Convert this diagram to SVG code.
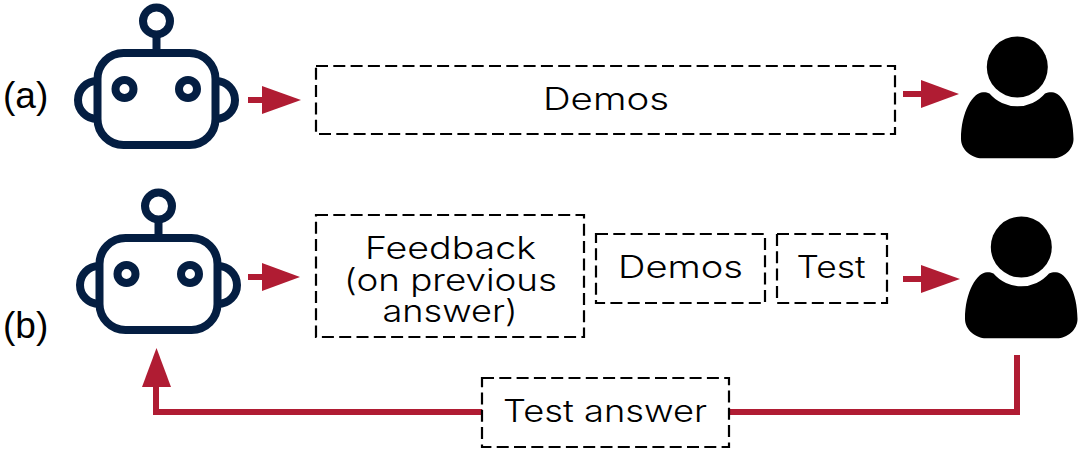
<svg xmlns="http://www.w3.org/2000/svg" xmlns:xlink="http://www.w3.org/1999/xlink" width="1079" height="452" viewBox="0 0 1079 452">
  <style>
    .ink { fill: none; stroke: #041e42; stroke-width: 8; }
    .box { fill: #fff; stroke: #000; stroke-width: 2.2; stroke-dasharray: 12 5.3; }
    .label { font-family: "Inter", "Noto Sans", sans-serif; font-weight: 300; font-size: 31px; fill: #000; text-anchor: middle; }
    .tag { font-family: "Liberation Sans", Arial, sans-serif; font-size: 37px; fill: #000; }
    .wire { fill: none; stroke: #b01c33; stroke-width: 6; }
    .head { fill: #b01c33; }
  </style>
  <defs>
    <g id="robot">
      <circle class="ink" cx="156.5" cy="21" r="13.5"/>
      <path class="ink" d="M156.5 35V51"/>
      <rect class="ink" x="97.5" y="53" width="118" height="92" rx="26"/>
      <circle class="ink" cx="124.5" cy="89" r="9"/>
      <circle class="ink" cx="188" cy="89" r="9"/>
      <path class="ink" d="M97 81A19 19 0 0 0 97 119"/>
      <path class="ink" d="M216 81A19 19 0 0 1 216 119"/>
    </g>
    <g id="person">
      <circle cx="1017.3" cy="67" r="30.5"/>
      <path d="M989.5 93.5A36.5 36.5 0 0 0 1045 93.5C1047.5 92.5 1050 92 1052 92.3C1062 92.3 1073.5 112 1073.5 139C1073.5 150 1063 158.3 1053 158.3H982C972 158.3 961 150 961 139C961 112 973 92.3 983 92.3C985 92 987 92.5 989.5 93.5Z"/>
    </g>
  </defs>

  <text class="tag" x="3" y="108">(a)</text>
  <text class="tag" x="3" y="338">(b)</text>

  <g id="connectors">
    <path class="wire" d="M248 100H264"/>
    <polygon class="head" points="262,86 301,100 262,114"/>
    <path class="wire" d="M903 94H923"/>
    <polygon class="head" points="921,80 959,94 921,108"/>
    <path class="wire" d="M248 277H264"/>
    <polygon class="head" points="262,263 300,277 262,291"/>
    <path class="wire" d="M903 279H923"/>
    <polygon class="head" points="921,265 960,279 921,293"/>
    <path class="wire" d="M1017 355V412H156V385"/>
    <polygon class="head" points="142,387 156.5,348 171,387"/>
  </g>

  <g id="robot-a"><use xlink:href="#robot" href="#robot"/></g>
  <g id="robot-b"><use xlink:href="#robot" href="#robot" transform="translate(2 185)"/></g>
  <g id="person-a"><use xlink:href="#person" href="#person"/></g>
  <g id="person-b"><use xlink:href="#person" href="#person" transform="translate(4 180)"/></g>

  <g id="demos-a">
    <rect class="box" x="316" y="66" width="579" height="68"/>
    <text class="label" x="606" y="110" textLength="126" lengthAdjust="spacingAndGlyphs">Demos</text>
  </g>
  <g id="feedback">
    <rect class="box" x="316" y="215" width="268" height="122"/>
    <text class="label" x="450.5" y="259" textLength="171" lengthAdjust="spacingAndGlyphs">Feedback</text>
    <text class="label" x="450.5" y="291" textLength="213" lengthAdjust="spacingAndGlyphs">(on previous</text>
    <text class="label" x="450" y="322" textLength="135" lengthAdjust="spacingAndGlyphs">answer)</text>
  </g>
  <g id="demos-b">
    <rect class="box" x="596" y="234" width="169" height="69"/>
    <text class="label" x="680.5" y="278" textLength="125" lengthAdjust="spacingAndGlyphs">Demos</text>
  </g>
  <g id="test">
    <rect class="box" x="777" y="234" width="110" height="69"/>
    <text class="label" x="831" y="278" textLength="69" lengthAdjust="spacingAndGlyphs">Test</text>
  </g>
  <g id="test-answer">
    <rect class="box" x="482" y="378" width="247" height="69"/>
    <text class="label" x="605" y="422" textLength="204" lengthAdjust="spacingAndGlyphs">Test answer</text>
  </g>
</svg>
